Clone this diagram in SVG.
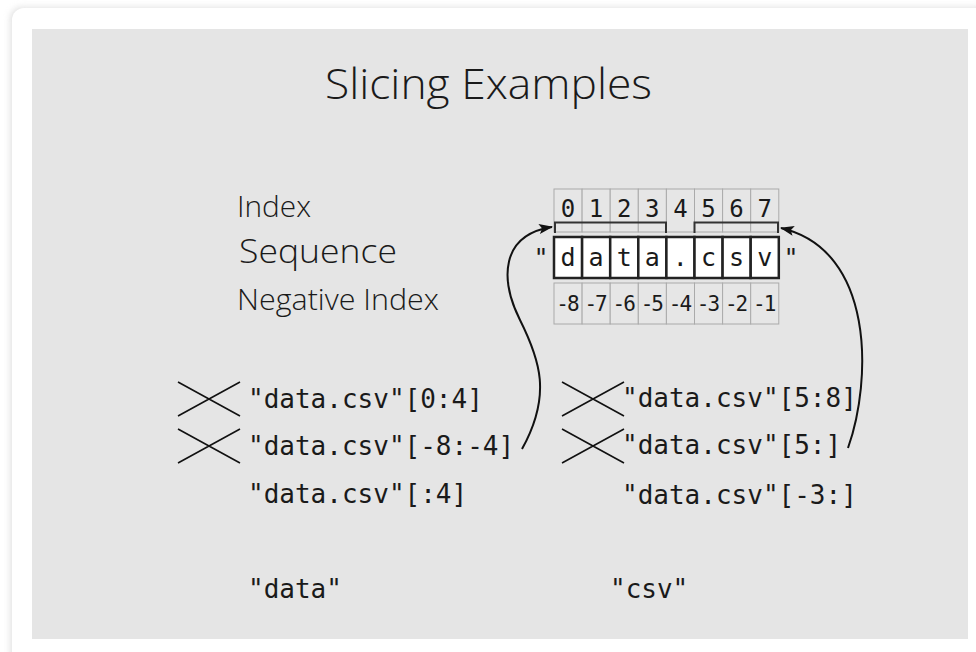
<svg xmlns="http://www.w3.org/2000/svg" width="976" height="652" viewBox="0 0 976 652">
<defs>
<filter id="sh" x="-5%" y="-5%" width="110%" height="110%"><feGaussianBlur stdDeviation="3"/></filter>
<marker id="ah" markerWidth="14" markerHeight="10" refX="13" refY="5" orient="auto" markerUnits="userSpaceOnUse"><path d="M0,0 L14,5 L0,10 L3,5 Z" fill="#111"/></marker>
<style>
.lbl{font-family:"Open Sans","Noto Sans",sans-serif;font-weight:300;fill:#1a1a1a}
.mono{font-family:"DejaVu Sans Mono","Liberation Mono",monospace;fill:#1a1a1a}
.cell{fill:#e6e6e6;stroke:#aaaaaa;stroke-width:1}
.seq{fill:#ffffff;stroke:#222;stroke-width:2.5}
.brk{fill:none;stroke:#333;stroke-width:2}
.x{stroke:#111;stroke-width:1.6;fill:none}
.arr{fill:none;stroke:#111;stroke-width:2;marker-end:url(#ah)}
</style>
</defs>
<rect x="0" y="0" width="976" height="652" fill="#ffffff"/>
<rect x="10" y="7" width="980" height="660" rx="12" fill="#cfcfcf" filter="url(#sh)" opacity="0.6"/>
<rect x="12" y="8" width="980" height="660" rx="12" fill="#ffffff"/>
<rect x="32" y="29" width="936" height="610" fill="#e5e5e5"/>

<g id="title"><text class="lbl" x="325" y="99" font-size="43" textLength="327" lengthAdjust="spacingAndGlyphs">Slicing Examples</text></g>

<g id="labels">
<text class="lbl" x="237" y="217" font-size="29" textLength="74" lengthAdjust="spacingAndGlyphs">Index</text>
<text class="lbl" x="239" y="263" font-size="33" textLength="158" lengthAdjust="spacingAndGlyphs">Sequence</text>
<text class="lbl" x="237" y="310" font-size="29" textLength="202" lengthAdjust="spacingAndGlyphs">Negative Index</text>
</g>

<g id="index-row">
<rect class="cell" x="554" y="189" width="28.1" height="43"/>
<rect class="cell" x="582.1" y="189" width="28.1" height="43"/>
<rect class="cell" x="610.2" y="189" width="28.1" height="43"/>
<rect class="cell" x="638.3" y="189" width="28.1" height="43"/>
<rect class="cell" x="666.4" y="189" width="28.1" height="43"/>
<rect class="cell" x="694.5" y="189" width="28.1" height="43"/>
<rect class="cell" x="722.6" y="189" width="28.1" height="43"/>
<rect class="cell" x="750.7" y="189" width="28.1" height="43"/>
<g class="mono" font-size="24" text-anchor="middle">
<text x="568" y="217">0</text><text x="596.1" y="217">1</text><text x="624.2" y="217">2</text><text x="652.3" y="217">3</text>
<text x="680.4" y="217">4</text><text x="708.5" y="217">5</text><text x="736.6" y="217">6</text><text x="764.7" y="217">7</text>
</g>
<path class="brk" d="M555,233 V222.5 H666 V233"/>
<path class="brk" d="M694.5,233 V222.5 H778 V233"/>
</g>

<g id="sequence-row">
<rect class="seq" x="554" y="237" width="28.1" height="41"/>
<rect class="seq" x="582.1" y="237" width="28.1" height="41"/>
<rect class="seq" x="610.2" y="237" width="28.1" height="41"/>
<rect class="seq" x="638.3" y="237" width="28.1" height="41"/>
<rect class="seq" x="666.4" y="237" width="28.1" height="41"/>
<rect class="seq" x="694.5" y="237" width="28.1" height="41"/>
<rect class="seq" x="722.6" y="237" width="28.1" height="41"/>
<rect class="seq" x="750.7" y="237" width="28.1" height="41"/>
<g class="mono" font-size="25" text-anchor="middle">
<text x="541" y="266">"</text>
<text x="568" y="266">d</text><text x="596.1" y="266">a</text><text x="624.2" y="266">t</text><text x="652.3" y="266">a</text>
<text x="680.4" y="266">.</text><text x="708.5" y="266">c</text><text x="736.6" y="266">s</text><text x="764.7" y="266">v</text>
<text x="791" y="266">"</text>
</g>
</g>

<g id="negative-row">
<rect class="cell" x="554" y="283" width="28.1" height="41"/>
<rect class="cell" x="582.1" y="283" width="28.1" height="41"/>
<rect class="cell" x="610.2" y="283" width="28.1" height="41"/>
<rect class="cell" x="638.3" y="283" width="28.1" height="41"/>
<rect class="cell" x="666.4" y="283" width="28.1" height="41"/>
<rect class="cell" x="694.5" y="283" width="28.1" height="41"/>
<rect class="cell" x="722.6" y="283" width="28.1" height="41"/>
<rect class="cell" x="750.7" y="283" width="28.1" height="41"/>
<g class="mono" font-size="21" text-anchor="middle" letter-spacing="-2">
<text x="567" y="311">-8</text><text x="595.1" y="311">-7</text><text x="623.2" y="311">-6</text><text x="651.3" y="311">-5</text>
<text x="679.4" y="311">-4</text><text x="707.5" y="311">-3</text><text x="735.6" y="311">-2</text><text x="763.7" y="311">-1</text>
</g>
</g>

<g id="left-examples">
<g class="mono" font-size="26">
<text x="248" y="408">"data.csv"[0:4]</text>
<text x="248" y="455">"data.csv"[-8:-4]</text>
<text x="248" y="503">"data.csv"[:4]</text>
<text x="248" y="598">"data"</text>
</g>
<path class="x" d="M178,382 L240,416 M178,416 L240,382"/>
<path class="x" d="M178,429 L240,463 M178,463 L240,429"/>
</g>

<g id="right-examples">
<g class="mono" font-size="26">
<text x="622" y="407">"data.csv"[5:8]</text>
<text x="622" y="454">"data.csv"[5:]</text>
<text x="622" y="504">"data.csv"[-3:]</text>
<text x="610" y="598">"csv"</text>
</g>
<path class="x" d="M562,382 L624,416 M562,416 L624,382"/>
<path class="x" d="M562,429 L624,463 M562,463 L624,429"/>
</g>

<g id="connectors">
<path class="arr" d="M522,449 C552,395 540,360 520,320 C500,280 500,235 552,227"/>
<path class="arr" d="M848,448 C872,380 875,250 781,228"/>
</g>
</svg>
